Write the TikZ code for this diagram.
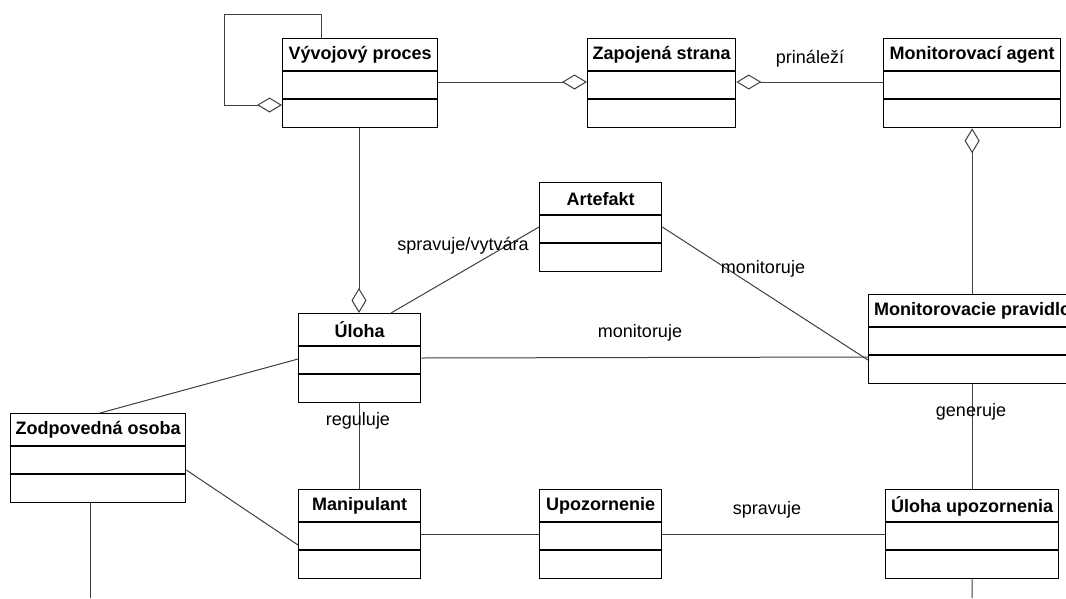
\documentclass[tikz,border=0pt]{standalone}
\usepackage{fontspec}
\setmainfont{Liberation Sans}
\usetikzlibrary{arrows.meta}
\tikzset{
  clsbox/.style={draw=black, line width=1.3pt, rectangle, inner sep=0pt, anchor=north west, minimum height=89pt, fill=white},
  divider/.style={draw=black, line width=1.3pt},
  clstitle/.style={font=\fontsize{18}{21}\selectfont\bfseries, inner sep=0pt},
  conn/.style={draw=black!75, line width=1pt},
  agg/.style={conn, -{Diamond[open, length=25pt, width=15pt, line width=1pt, fill=white]}},
  aggs/.style={conn, {Diamond[open, length=25pt, width=15pt, line width=1pt, fill=white]}-},
  lbl/.style={font=\fontsize{18}{21}\selectfont, inner sep=0pt, text=black}
}
\newcommand\umlcls[6]{%
  \node[clsbox, minimum width=#4-#2] (#1) at (#2,#3) {};
  \draw[divider] ([yshift=-33pt]#1.north west) -- ([yshift=-33pt]#1.north east);
  \draw[divider] ([yshift=-61pt]#1.north west) -- ([yshift=-61pt]#1.north east);
  \node[clstitle] at ([yshift=-17pt]#1.north) {#6};
}
\begin{document}
\begin{tikzpicture}[x=1pt, y=-1pt]
\useasboundingbox (0,0) rectangle (1066,598);
\clip (0,0) rectangle (1066,598);
\fill[white] (0,0) rectangle (1066,598);

% connectors first (boxes drawn on top)
\coordinate (zoend) at (90,598);
\coordinate (uuend) at (972,598);
\coordinate (loopA) at (321,14);
\coordinate (loopB) at (224,14);
\coordinate (loopC) at (224,105);

\umlcls{vp}{282}{38}{437}{127}{Vývojový proces}
\umlcls{zs}{587}{38}{735}{127}{Zapojená strana}
\umlcls{ma}{883}{38}{1060}{127}{Monitorovací agent}
\umlcls{art}{539}{182}{661}{271}{Artefakt}
\umlcls{ul}{298}{313}{420}{402}{Úloha}
\umlcls{mp}{868}{294}{1076}{383}{Monitorovacie pravidlo}
\umlcls{zo}{10}{413}{185}{502}{Zodpovedná osoba}
\umlcls{man}{298}{489}{420}{578}{Manipulant}
\umlcls{upo}{539}{489}{661}{578}{Upozornenie}
\umlcls{uu}{885}{489}{1058}{578}{Úloha upozornenia}

% self loop on Vývojový proces
\draw[agg] ([xshift=39pt]vp.north west) -- (loopA) -- (loopB) -- (loopC) -- ([yshift=-67pt]vp.north west);

% top row
\draw[agg] ([yshift=-44pt]vp.north east) -- ([yshift=-44pt]zs.north west);
\draw[aggs] ([yshift=-44pt]zs.north east) -- ([yshift=-44pt]ma.north west);
\node[lbl] at (810,59) {prináleží};

% Monitorovací agent -> Monitorovacie pravidlo
\draw[aggs] (ma.south) -- (ma.south |- mp.north);

% Vývojový proces -> Úloha
\draw[agg] ([xshift=77pt]vp.south west) -- ([xshift=61pt]ul.north west);

% Úloha -- Artefakt
\draw[conn] ([xshift=93pt]ul.north west) -- ([yshift=-45pt]art.north west);
\node[lbl] at (463,246) {spravuje/vytvára};

% Artefakt -- Monitorovacie pravidlo
\draw[conn] ([yshift=-45pt]art.north east) -- ([yshift=-66pt]mp.north west);
\node[lbl] at (763,269) {monitoruje};

% Úloha -- Monitorovacie pravidlo
\draw[conn] ([yshift=-45pt]ul.north east) -- ([yshift=-63pt]mp.north west);
\node[lbl] at (640,333) {monitoruje};

% Úloha -- Zodpovedná osoba
\draw[conn] ([yshift=-46pt]ul.north west) -- ([xshift=90pt]zo.north west);

% Zodpovedná osoba -- Manipulant
\draw[conn] ([yshift=-57pt]zo.north east) -- ([yshift=-56pt]man.north west);

% Úloha -- Manipulant
\draw[conn] (ul.south) -- (man.north);
\node[lbl] at (358,421) {reguluje};

% Manipulant -- Upozornenie -- Úloha upozornenia
\draw[conn] ([yshift=-45pt]man.north east) -- ([yshift=-45pt]upo.north west);
\draw[conn] ([yshift=-45pt]upo.north east) -- ([yshift=-45pt]uu.north west);
\node[lbl] at (767,510) {spravuje};

% Monitorovacie pravidlo -- Úloha upozornenia
\draw[conn] (mp.south) -- (mp.south |- uu.north);
\node[lbl] at (971,412) {generuje};

% free ends
\draw[conn] ([xshift=80pt]zo.south west) -- (zoend);
\draw[conn] (uu.south) -- (uuend);

% redraw boxes on top of connectors (ends of lines)
\end{tikzpicture}
\end{document}
